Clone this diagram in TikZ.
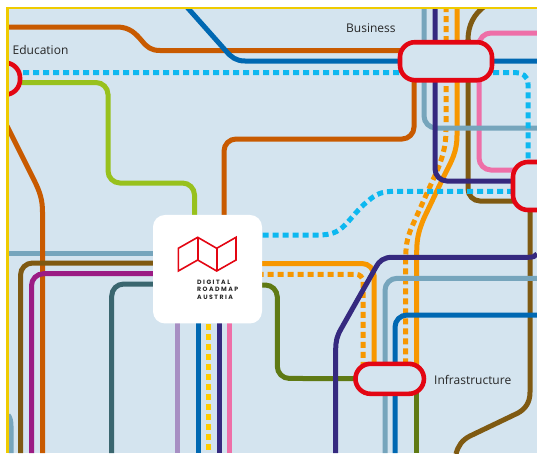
\documentclass[tikz,border=0pt]{standalone}
\usepackage{fontspec}
\setmainfont{Open Sans}
\newfontfamily\logofont[LetterSpace=24]{Poppins}
\pgfdeclarelayer{lines}
\pgfsetlayers{lines,main}
\definecolor{bgblue}{HTML}{D4E4EF}
\definecolor{framey}{HTML}{EFCB00}
\definecolor{rust}{HTML}{C85A00}
\definecolor{roadblue}{HTML}{0068B2}
\definecolor{skydot}{HTML}{0DB8F0}
\definecolor{lime}{HTML}{98C11D}
\definecolor{steel}{HTML}{76A5BC}
\definecolor{indigo}{HTML}{35297F}
\definecolor{amber}{HTML}{F79700}
\definecolor{umber}{HTML}{7F5A12}
\definecolor{rose}{HTML}{EE6FA8}
\definecolor{plum}{HTML}{9B1C84}
\definecolor{petrol}{HTML}{3A666F}
\definecolor{lilac}{HTML}{A78FC3}
\definecolor{sun}{HTML}{FFCC00}
\definecolor{olive}{HTML}{5F7A14}
\definecolor{hubred}{HTML}{E30613}
\tikzset{
  x=1pt,y=-1pt,
  route/.style={line width=5pt,rounded corners=12pt},
  dotroute/.style={line width=5pt,dash pattern=on 6pt off 4pt,rounded corners=7pt},
  hub/.style={draw=hubred,fill=bgblue,line width=4.6pt,rounded corners=15pt,inner sep=0pt,outer sep=0pt},
  label/.style={font=\fontsize{12}{14}\selectfont,text=black!85,inner sep=0pt},
  logotext/.style={font=\fontsize{6.2}{7.55}\selectfont\logofont\bfseries,text=black!85,inner sep=0pt,align=left},
  logoline/.style={draw=hubred,line width=1.6pt,line join=miter}
}
\begin{document}
\begin{tikzpicture}
\useasboundingbox (0,0) rectangle (537,453);
% hubs and logo
\node[hub,minimum width=92pt,minimum height=38pt] (business) at (446,61.2) {};
\node[hub,minimum width=64pt,minimum height=48pt] (east) at (545,186) {};
\node[hub,minimum width=60pt,minimum height=32pt] (education) at (-10,78.7) {};
\node[hub,minimum width=68.5pt,minimum height=30pt] (infra) at (389.7,378.8) {};
\node[fill=white,rounded corners=12pt,minimum width=109pt,minimum height=108.5pt,inner sep=0pt,outer sep=0pt] (logo) at (207.5,269.2) {};
\begin{pgfonlayer}{lines}
\fill[bgblue] (6,6.5) rectangle (537,453);
% west steel lines
\draw[route,steel] (8,253) -- (logo.center |- 0,253);
\draw[route,steel,rounded corners=0pt] (8,415) .. controls (10,417) and (11,421) .. (11,426) -- (11,453);
% rust
\draw[route,rust,rounded corners=0pt] (8,27) -- (117,27) .. controls (130,27) and (136,34) .. (142,41) .. controls (147,47) and (151,50.5) .. (160,50.5) -- (business.center |- 0,50.5);
\draw[route,rust] (logo.center -| 224,0) -- (224,139) -- (414,139) -- ([xshift=-32pt]business.center);
\draw[route,rust,rounded corners=0pt] (7,126) -- (34,180) .. controls (40,192) and (42.5,200) .. (42.5,212) -- (42.5,453);
% lime
\draw[route,lime] (education.center |- 0,82.5) -- (108,82.5) -- (108,183) -- (194.5,183) -- (194.5,230);
% umber
\draw[route,umber,rounded corners=0pt] (485,6) .. controls (474,14) and (468,25) .. (468,40);
\draw[route,umber] (468,39) -- (468,201) -- (east.center |- 0,201);
\draw[route,umber,rounded corners=0pt] (530,200) -- (530,392) .. controls (530,403) and (525,409) .. (518,413) -- (470,436) .. controls (462,440) and (458,446) .. (456,454);
% rose
\draw[route,rose] (537,33) -- (479,33) -- (479,170) -- (east.center |- 0,170);
% amber
\draw[line width=5pt,amber] (457,6) -- (457,135) .. controls (457,152) and (452,160) .. (444,176) -- (424,218) .. controls (419,230) and (416.7,238) .. (416.7,252) -- (416.7,378);
\draw[dotroute,amber,rounded corners=0pt] (446,6) -- (446,130) .. controls (446,150) and (440,165) .. (432,182) -- (414,222) .. controls (408,235) and (405.7,243) .. (405.7,258) -- (405.7,362);
\draw[route,amber] (logo.center |- 0,263.5) -- (374,263.5) -- (374,378);
\draw[dotroute,amber] (logo.center |- 0,274.3) -- (363,274.3) -- (363,378);
% olive
\draw[route,olive] (logo.center |- 0,285) -- (277.3,285) -- (277.3,378.4) -- (infra.center);
\draw[route,olive] (416,378) -- (416,453);
% steel
\draw[route,steel] (424,6) -- (424,128) -- (537,128);
\draw[route,steel] (537,278.3) -- (385,278.3) -- (385,453);
% blue
\draw[route,roadblue,rounded corners=0pt] (186,6) -- (226,51) .. controls (231,57) and (236,61) .. (245,61) -- (537,61);
\draw[route,roadblue] (537,315) -- (395,315) -- (395,453);
% indigo
\draw[route,indigo] (435,6) -- (435,181) -- (east.center |- 0,181);
\draw[route,indigo,rounded corners=0pt] (537,254) .. controls (535,256.5) and (533,257.3) .. (528,257.3) -- (392,257.3) .. controls (384,257.3) and (379,261) .. (376,267) -- (341,329) .. controls (337,336) and (335.7,341) .. (335.7,350) -- (335.7,453);
% west group
\draw[route,umber] (logo.center |- 0,263) -- (20.5,263) -- (20.5,453);
\draw[route,plum] (logo.center |- 0,273.7) -- (31.5,273.7) -- (31.5,453);
\draw[route,petrol] (logo.center |- 0,284) -- (111.7,284) -- (111.7,453);
% south group
\draw[route,lilac] (177.7,300) -- (177.7,453);
\draw[route,roadblue] (198.7,300) -- (198.7,453);
\draw[dotroute,sun] (208.5,324) -- (208.5,453);
\draw[route,indigo] (219,300) -- (219,453);
\draw[route,rose] (229.7,300) -- (229.7,453);
% sky dotted
\draw[dotroute,skydot,rounded corners=0pt] (education.east |- 0,72.5) ++(3,0) -- (515,72.5) .. controls (522,72.5) and (528,76) .. (528,84) -- (528,161);
\draw[dotroute,skydot,rounded corners=0pt] (east.west |- 0,191.3) -- (395,191.3) .. controls (382,191.3) and (376,194) .. (368,201) .. controls (358,209) and (352,218) .. (345,225) .. controls (337,233) and (330,235) .. (318,235) -- (262,235);
\end{pgfonlayer}
% logo mark
\draw[logoline] (178.3,248.3) -- (197.7,237.3) -- (216.7,248.3) -- (236,237.3) -- (236,260) -- (216.7,271) -- (197.7,260) -- (178.3,271) -- cycle;
\draw[logoline] (197.7,237.3) -- (197.7,260);
\draw[logoline] (216.7,248.3) -- (216.7,271);
\node[logotext,anchor=north west] (logoname) at (197,279.8) {DIGITAL\\ROADMAP\\AUSTRIA};
% labels
\node[label,anchor=west] (ledu) at (12.5,50) {Education};
\node[label,anchor=west] (lbus) at (346,28) {Business};
\node[label,anchor=west] (linf) at (434,380) {Infrastructure};
% page margin and frame
\fill[white] (0,0) rectangle (537,6.5);
\fill[white] (0,0) rectangle (6,453);
\fill[framey] (6,6.8) rectangle (537,9.3);
\fill[framey] (6,6.8) rectangle (9,453);
\end{tikzpicture}
\end{document}
